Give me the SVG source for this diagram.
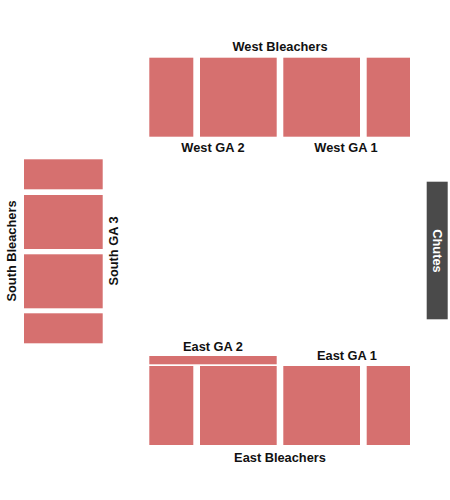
<svg xmlns="http://www.w3.org/2000/svg" width="450" height="500" viewBox="0 0 450 500">
<style>
.s{fill:#d6706f}
.t{font-family:"Liberation Sans",Arial,sans-serif;font-weight:bold;font-size:12.8px;fill:#111;text-anchor:middle}
</style>
<rect width="450" height="500" fill="#fff"/>
<g id="west-bleachers">
<rect class="s" x="149.3" y="57.7" width="44" height="79"/>
<rect class="s" x="200" y="57.7" width="76.7" height="79"/>
<rect class="s" x="283.3" y="57.7" width="76.7" height="79"/>
<rect class="s" x="366.7" y="57.7" width="43.3" height="79"/>
<text class="t" x="280" y="51">West Bleachers</text>
<text class="t" x="213" y="152">West GA 2</text>
<text class="t" x="346" y="152">West GA 1</text>
</g>
<g id="south-bleachers">
<rect class="s" x="24" y="159.3" width="78.7" height="30"/>
<rect class="s" x="24" y="195" width="78.7" height="54"/>
<rect class="s" x="24" y="254.3" width="78.7" height="54"/>
<rect class="s" x="24" y="313.3" width="78.7" height="30"/>
<text class="t" transform="translate(16,251) rotate(-90)">South Bleachers</text>
<text class="t" transform="translate(118,251) rotate(-90)">South GA 3</text>
</g>
<g id="chutes">
<rect x="426.7" y="181.7" width="21" height="137.6" fill="#4a4a4a"/>
<text class="t" style="fill:#fff" transform="translate(433,251) rotate(90)">Chutes</text>
</g>
<g id="east-bleachers">
<rect class="s" x="149.3" y="356" width="127.4" height="8.3"/>
<rect class="s" x="149.3" y="366" width="44" height="79"/>
<rect class="s" x="200" y="366" width="76.7" height="79"/>
<rect class="s" x="283.3" y="366" width="76.7" height="79"/>
<rect class="s" x="366.7" y="366" width="43.3" height="79"/>
<text class="t" x="213" y="351">East GA 2</text>
<text class="t" x="347" y="360">East GA 1</text>
<text class="t" x="280" y="462">East Bleachers</text>
</g>
<g id="connectors"/>
</svg>
